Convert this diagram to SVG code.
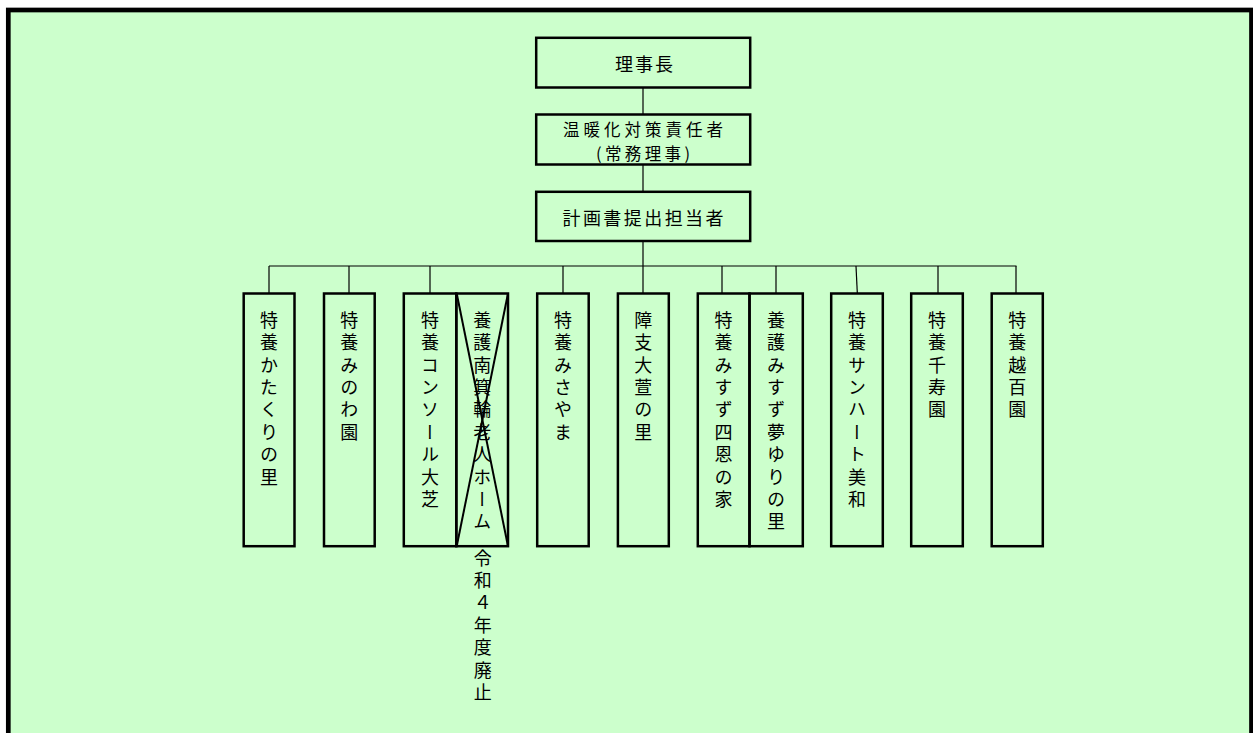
<svg xmlns="http://www.w3.org/2000/svg" width="1253" height="733" viewBox="0 0 1253 733">
<style>
.box{fill:none;stroke:#000;stroke-width:2.5}
.ln{fill:none;stroke:#000;stroke-width:1.2}
.x{fill:none;stroke:#000;stroke-width:2}
.t{font-family:"Noto Sans CJK JP","Noto Sans CJK SC",sans-serif;font-size:18px;fill:#000}
.s{font-family:"Noto Sans CJK JP","Noto Sans CJK SC",sans-serif;font-size:16.5px;fill:#000}
.v{font-family:"Noto Sans CJK JP","Noto Sans CJK SC",sans-serif;font-size:18px;fill:#000;writing-mode:vertical-rl;letter-spacing:4.4px}
</style>
<rect x="0" y="0" width="1253" height="733" fill="#fff"/>
<rect x="8.3" y="10" width="1243.2" height="760" fill="#CCFFCC" stroke="#000" stroke-width="4.7"/>
<g id="connectors">
<line class="ln" x1="643" y1="88" x2="643" y2="114"/>
<line class="ln" x1="643" y1="165" x2="643" y2="191"/>
<line class="ln" x1="643" y1="241" x2="643" y2="293"/>
<line class="ln" x1="269" y1="266" x2="1016.5" y2="266"/>
<line class="ln" x1="269" y1="266" x2="269" y2="293"/>
<line class="ln" x1="349" y1="266" x2="349" y2="293"/>
<line class="ln" x1="430" y1="266" x2="430" y2="293"/>
<line class="ln" x1="563" y1="266" x2="563" y2="293"/>
<line class="ln" x1="722" y1="266" x2="722" y2="293"/>
<line class="ln" x1="776" y1="266" x2="776" y2="293"/>
<line class="ln" x1="856" y1="266" x2="857.3" y2="293"/>
<line class="ln" x1="938" y1="266" x2="938" y2="293"/>
<line class="ln" x1="1016" y1="266" x2="1016" y2="293"/>
</g>
<g id="n-rijicho">
<rect class="box" x="536.2" y="37.8" width="214" height="49.7"/>
<text class="t" x="615" y="63" dominant-baseline="central" textLength="58" lengthAdjust="spacing">理事長</text>
</g>
<g id="n-ondanka">
<rect class="box" x="536.2" y="114.5" width="214" height="50"/>
<text class="s" x="563" y="128.5" dominant-baseline="central" textLength="160" lengthAdjust="spacing">温暖化対策責任者</text>
<text class="s" x="596" y="152.5" dominant-baseline="central" textLength="94" lengthAdjust="spacing">(常務理事)</text>
</g>
<g id="n-keikaku">
<rect class="box" x="536.2" y="191.8" width="214" height="49.2"/>
<text class="t" x="562.5" y="216.7" dominant-baseline="central" textLength="161" lengthAdjust="spacing">計画書提出担当者</text>
</g>
<g id="n-katakuri">
<rect class="box" x="243.7" y="293.5" width="50.8" height="252.7"/>
<text class="v" x="269.1" y="311">特養かたくりの里</text>
</g>
<g id="n-minowa">
<rect class="box" x="324" y="293.5" width="50.7" height="252.7"/>
<text class="v" x="349.3" y="311">特養みのわ園</text>
</g>
<g id="n-consol">
<rect class="box" x="403.8" y="293.5" width="52.5" height="252.7"/>
<text class="v" x="430" y="311">特養コンソール大芝</text>
</g>
<g id="n-minowa-yougo">
<rect class="box" x="456.3" y="293.5" width="51.7" height="252.7"/>
<text class="v" x="482.2" y="311">養護南箕輪老人ホーム</text>
<line class="x" x1="456.7" y1="293.5" x2="508" y2="546.2"/>
<line class="x" x1="508" y1="293.5" x2="456.7" y2="546.2"/>
<text class="v" x="482.8" y="549">令和４年度廃止</text>
</g>
<g id="n-misayama">
<rect class="box" x="537.2" y="293.5" width="51.5" height="252.7"/>
<text class="v" x="563" y="311">特養みさやま</text>
</g>
<g id="n-ookaya">
<rect class="box" x="617.9" y="293.5" width="50.9" height="252.7"/>
<text class="v" x="643.3" y="311">障支大萱の里</text>
</g>
<g id="n-shion">
<rect class="box" x="697.8" y="293.5" width="51.7" height="252.7"/>
<text class="v" x="723.6" y="311">特養みすず四恩の家</text>
</g>
<g id="n-yumeyuri">
<rect class="box" x="749.5" y="293.5" width="53.3" height="252.7"/>
<text class="v" x="776.1" y="311">養護みすず夢ゆりの里</text>
</g>
<g id="n-sunheart">
<rect class="box" x="831.2" y="293.5" width="51.6" height="252.7"/>
<text class="v" x="857" y="311">特養サンハート美和</text>
</g>
<g id="n-senju">
<rect class="box" x="911.2" y="293.5" width="51.6" height="252.7"/>
<text class="v" x="937" y="311">特養千寿園</text>
</g>
<g id="n-koshimomo">
<rect class="box" x="991.7" y="293.5" width="51.1" height="252.7"/>
<text class="v" x="1017.2" y="311">特養越百園</text>
</g>
</svg>
